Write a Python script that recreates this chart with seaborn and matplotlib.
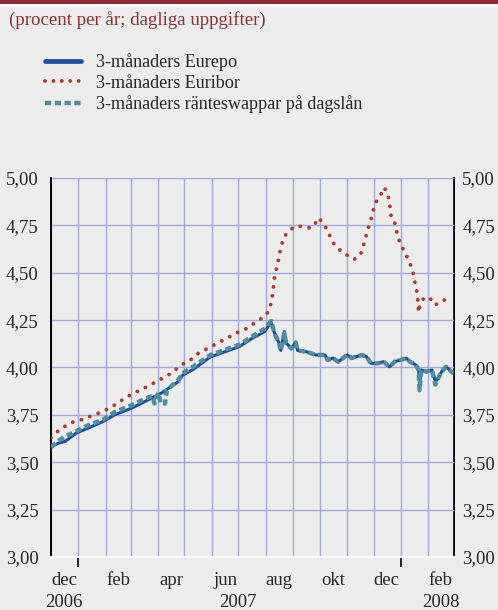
import numpy as np
import pandas as pd
import matplotlib
matplotlib.use("Agg")
import matplotlib.pyplot as plt
import matplotlib.dates as mdates
import matplotlib.transforms as mtransforms
from matplotlib.lines import Line2D
import seaborn as sns

# 3-month Euribor
euribor_dates = [
    "2006-12-01", "2006-12-09", "2006-12-17", "2006-12-24", "2007-01-02", "2007-01-10",
    "2007-01-19", "2007-01-27", "2007-02-05", "2007-02-12", "2007-02-20", "2007-02-27",
    "2007-03-07", "2007-03-16", "2007-03-24", "2007-04-01", "2007-04-09", "2007-04-16",
    "2007-04-24", "2007-04-30", "2007-05-08", "2007-05-15", "2007-05-23", "2007-05-31",
    "2007-06-08", "2007-06-16", "2007-06-24", "2007-07-02", "2007-07-10", "2007-07-18",
    "2007-07-26", "2007-08-02", "2007-08-06", "2007-08-08", "2007-08-09", "2007-08-10",
    "2007-08-11", "2007-08-13", "2007-08-15", "2007-08-17", "2007-08-19", "2007-08-21",
    "2007-08-27", "2007-09-03", "2007-09-12", "2007-09-21", "2007-09-26", "2007-09-30",
    "2007-10-06", "2007-10-10", "2007-10-14", "2007-10-18", "2007-10-25", "2007-11-02",
    "2007-11-09", "2007-11-16", "2007-11-19", "2007-11-21", "2007-11-24", "2007-11-26",
    "2007-11-29", "2007-12-01", "2007-12-04", "2007-12-09", "2007-12-13", "2007-12-17",
    "2007-12-19", "2007-12-20", "2007-12-21", "2007-12-26", "2007-12-27", "2007-12-29",
    "2008-01-02", "2008-01-06", "2008-01-10", "2008-01-13", "2008-01-16", "2008-01-17",
    "2008-01-19", "2008-01-20", "2008-01-21", "2008-01-22", "2008-01-23", "2008-01-27",
    "2008-02-04", "2008-02-08", "2008-02-16", "2008-02-23",
]
euribor_values = [
    3.63, 3.665, 3.69, 3.71, 3.72, 3.735,
    3.75, 3.765, 3.785, 3.805, 3.83, 3.85,
    3.87, 3.89, 3.91, 3.93, 3.95, 3.97,
    4.00, 4.02, 4.04, 4.07, 4.09, 4.11,
    4.13, 4.15, 4.17, 4.19, 4.205, 4.23,
    4.255, 4.28, 4.32, 4.36, 4.40, 4.435,
    4.48, 4.52, 4.56, 4.61, 4.645, 4.685,
    4.72, 4.745, 4.745, 4.735, 4.76, 4.79,
    4.755, 4.72, 4.68, 4.645, 4.615, 4.59,
    4.57, 4.595, 4.63, 4.675, 4.715, 4.755,
    4.795, 4.835, 4.875, 4.91, 4.95, 4.915,
    4.87, 4.83, 4.79, 4.755, 4.72, 4.68,
    4.64, 4.60, 4.565, 4.525, 4.48, 4.44,
    4.40, 4.36, 4.29, 4.32, 4.33, 4.37,
    4.36, 4.33, 4.345, 4.37,
]

# 3-month Eurepo
eurepo_dates = [
    "2006-12-01", "2006-12-09", "2006-12-17", "2006-12-30", "2007-01-12", "2007-01-29",
    "2007-02-11", "2007-03-02", "2007-03-17", "2007-04-05", "2007-04-24", "2007-04-29",
    "2007-05-11", "2007-05-30", "2007-06-17", "2007-07-02", "2007-07-17", "2007-07-31",
    "2007-08-07", "2007-08-11", "2007-08-16", "2007-08-18", "2007-08-22", "2007-08-24",
    "2007-08-30", "2007-09-04", "2007-09-06", "2007-09-16", "2007-09-27", "2007-10-07",
    "2007-10-10", "2007-10-16", "2007-10-22", "2007-11-01", "2007-11-06", "2007-11-18",
    "2007-11-23", "2007-11-28", "2007-12-06", "2007-12-12", "2007-12-19", "2007-12-25",
    "2007-12-29", "2008-01-07", "2008-01-11", "2008-01-18", "2008-01-21", "2008-01-22",
    "2008-01-24", "2008-01-30", "2008-02-05", "2008-02-09", "2008-02-12", "2008-02-16",
    "2008-02-21", "2008-02-29",
]
eurepo_values = [
    3.58, 3.60, 3.61, 3.655, 3.68, 3.715,
    3.75, 3.785, 3.82, 3.865, 3.925, 3.96,
    3.99, 4.055, 4.085, 4.11, 4.155, 4.19,
    4.24, 4.18, 4.13, 4.09, 4.19, 4.13,
    4.10, 4.135, 4.09, 4.083, 4.066, 4.066,
    4.04, 4.05, 4.03, 4.066, 4.05, 4.066,
    4.057, 4.022, 4.022, 4.031, 4.004, 4.031,
    4.036, 4.049, 4.031, 4.013, 3.987, 3.91,
    3.987, 3.978, 3.987, 3.925, 3.943, 3.978,
    4.004, 3.97,
]

# 3-month overnight index swaps
swap_dates = [
    "2006-12-01", "2006-12-10", "2006-12-17", "2006-12-30", "2007-01-12", "2007-01-29",
    "2007-02-11", "2007-03-02", "2007-03-17", "2007-03-26", "2007-03-28", "2007-03-30",
    "2007-04-02", "2007-04-04", "2007-04-09", "2007-04-11", "2007-04-24", "2007-04-29",
    "2007-05-11", "2007-05-30", "2007-06-17", "2007-07-02", "2007-07-17", "2007-07-31",
    "2007-08-07", "2007-08-11", "2007-08-16", "2007-08-18", "2007-08-22", "2007-08-24",
    "2007-08-30", "2007-09-04", "2007-09-06", "2007-09-16", "2007-09-27", "2007-10-07",
    "2007-10-10", "2007-10-16", "2007-10-22", "2007-11-01", "2007-11-06", "2007-11-18",
    "2007-11-23", "2007-11-28", "2007-12-06", "2007-12-12", "2007-12-19", "2007-12-25",
    "2007-12-29", "2008-01-07", "2008-01-11", "2008-01-18", "2008-01-21", "2008-01-22",
    "2008-01-24", "2008-01-30", "2008-02-05", "2008-02-09", "2008-02-12", "2008-02-16",
    "2008-02-21", "2008-02-29",
]
swap_values = [
    3.58, 3.615, 3.635, 3.665, 3.695, 3.725,
    3.765, 3.80, 3.835, 3.85, 3.81, 3.845,
    3.865, 3.81, 3.81, 3.88, 3.935, 3.97,
    4.005, 4.065, 4.095, 4.12, 4.165, 4.205,
    4.245, 4.18, 4.13, 4.09, 4.18, 4.13,
    4.10, 4.13, 4.09, 4.083, 4.066, 4.066,
    4.04, 4.05, 4.03, 4.066, 4.05, 4.066,
    4.057, 4.022, 4.022, 4.031, 4.004, 4.031,
    4.036, 4.049, 4.031, 4.013, 3.987, 3.88,
    3.987, 3.978, 3.987, 3.91, 3.943, 3.978,
    4.004, 3.97,
]

y_ticks = [3.00, 3.25, 3.50, 3.75, 4.00, 4.25, 4.50, 4.75, 5.00]
month_labels = ["dec", "feb", "apr", "jun", "aug", "okt", "dec", "feb"]
month_label_dates = ["2006-12-16", "2007-02-15", "2007-04-16", "2007-06-16",
                     "2007-08-16", "2007-10-16", "2007-12-16", "2008-02-15"]
year_labels = ["2006", "2007", "2008"]
year_label_dates = ["2006-12-16", "2007-07-01", "2008-02-15"]

series_names = ["3-månaders Eurepo", "3-månaders Euribor",
                "3-månaders ränteswappar på dagslån"]

bg = "#ececec"
blue = "#1a4ea3"
red = "#b0392e"
teal = "#4f8f9c"
grid_col = "#9ea8e4"
title_col = "#8c3034"

sns.set_style("white")
plt.rcParams["font.family"] = ["Liberation Serif", "DejaVu Serif"]

df_eurepo = pd.DataFrame({"date": pd.to_datetime(eurepo_dates), "value": eurepo_values})
df_euribor = pd.DataFrame({"date": pd.to_datetime(euribor_dates), "value": euribor_values})
df_swap = pd.DataFrame({"date": pd.to_datetime(swap_dates), "value": swap_values})

fig = plt.figure(figsize=(4.98, 6.10), dpi=100, facecolor=bg)
ax = fig.add_axes([51 / 498, 53 / 610, 403 / 498, 379 / 610])
ax.set_facecolor(bg)

sns.lineplot(data=df_eurepo, x="date", y="value", ax=ax, color=blue, lw=2.2,
             estimator=None, sort=False, zorder=3)
sns.lineplot(data=df_swap, x="date", y="value", ax=ax, color=teal, lw=3.2,
             estimator=None, sort=False, zorder=4,
             linestyle=(0, (1.4, 0.8)))
sns.lineplot(data=df_euribor, x="date", y="value", ax=ax, color=red, lw=2.8,
             estimator=None, sort=False, zorder=5,
             linestyle=(0, (0.01, 2.3)), dash_capstyle="round")

ax.set_xlim(pd.Timestamp("2006-12-01"), pd.Timestamp("2008-03-01"))
ax.set_ylim(3.0, 5.0)
ax.set_xlabel("")
ax.set_ylabel("")

# grid and left labels
y_labels = [f"{v:.2f}".replace(".", ",") for v in y_ticks]
ax.set_yticks(y_ticks)
ax.set_yticklabels(y_labels)
ax.xaxis.set_major_locator(mdates.MonthLocator())
ax.xaxis.set_minor_locator(mdates.MonthLocator(bymonth=[4, 7, 10]))
ax.grid(True, which="major", color=grid_col, lw=1.0, zorder=1)
ax.set_axisbelow(True)
ax.tick_params(axis="x", which="major", length=3, width=1.2, color="black",
               labelbottom=False, direction="out")
ax.tick_params(axis="x", which="minor", length=5, width=1.2, color="black",
               labelbottom=False, direction="out")
ax.tick_params(axis="y", length=0, labelsize=13.5, pad=9)

# right labels
ax_r = ax.secondary_yaxis("right")
ax_r.set_yticks(y_ticks)
ax_r.set_yticklabels(y_labels)
ax_r.tick_params(length=0, labelsize=13.5, pad=6)
ax_r.spines["right"].set_color("black")
ax_r.spines["right"].set_linewidth(1.4)

# longer ticks at the year boundaries
sec = ax.secondary_xaxis("bottom")
sec.set_xticks([pd.Timestamp("2007-01-01"), pd.Timestamp("2008-01-01")])
sec.tick_params(length=7, width=1.2, color="black", labelbottom=False)
sec.spines["bottom"].set_visible(False)

ax.spines["left"].set_color("black")
ax.spines["left"].set_linewidth(1.4)
ax.spines["right"].set_visible(False)
ax.spines["top"].set_visible(False)
ax.spines["bottom"].set_color("white")
ax.spines["bottom"].set_linewidth(1.5)

trans = mtransforms.blended_transform_factory(ax.transData, ax.transAxes)
for lab, d in zip(month_labels, month_label_dates):
    ax.text(pd.Timestamp(d), -0.063, lab, transform=trans, ha="center", va="center",
            fontsize=13.5)
for lab, d in zip(year_labels, year_label_dates):
    ax.text(pd.Timestamp(d), -0.12, lab, transform=trans, ha="center", va="center",
            fontsize=13.5)

# header band and subtitle
fig.add_artist(plt.Rectangle((0, 1 - 4 / 610), 1, 4 / 610, transform=fig.transFigure,
                             color="#8a2c30", lw=0))
fig.add_artist(plt.Rectangle((0, 1 - 7 / 610), 1, 3 / 610, transform=fig.transFigure,
                             color="white", lw=0))
fig.text(9 / 498, 1 - 20 / 610, "(procent per år; dagliga uppgifter)", color=title_col,
         fontsize=13.6, ha="left", va="center")

handles = [
    Line2D([], [], color=blue, lw=3.4),
    Line2D([], [], color=red, lw=2.8, linestyle=(0, (0.01, 2.15)), dash_capstyle="round"),
    Line2D([], [], color=teal, lw=3.2, linestyle=(0, (1.4, 0.8))),
]
fig.legend(handles, series_names, loc="upper left", bbox_to_anchor=(38 / 498, 1 - 46 / 610),
           frameon=False, fontsize=13.1, handlelength=1.95, handletextpad=0.85,
           labelspacing=0.2, borderaxespad=0)

fig.savefig("out.png", dpi=100, facecolor=bg)
